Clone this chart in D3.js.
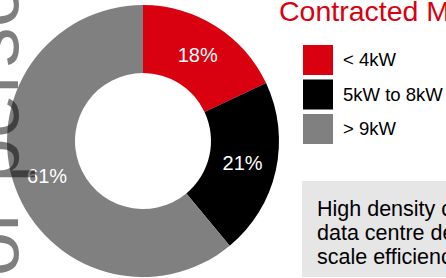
<!DOCTYPE html>
<html>
<head>
<meta charset="utf-8">
<script src="https://cdn.jsdelivr.net/npm/d3@7"></script>
<style>
  html, body { margin: 0; padding: 0; background: #fff; }
  svg { display: block; font-family: Arial, "Liberation Sans", sans-serif; }
</style>
</head>
<body>
<div id="chart"></div>
<script>
// Contracted MW split by rack density (donut + legend + note box)
var categories = ["< 4kW", "5kW to 8kW", "> 9kW"];
var shares = [18, 21, 61];
var colours = ["#d9000f", "#000000", "#808080"];
var title = "Contracted MW";
var noteLines = ["High density colocation", "data centre delivers", "scale efficiencies"];
var watermark = "For personal use only";

var width = 446, height = 278;
var cx = 143, cy = 141, outerR = 136, innerR = 68;

var svg = d3.select("#chart").append("svg")
  .attr("width", width).attr("height", height)
  .attr("viewBox", [0, 0, width, height]);

var colour = d3.scaleOrdinal().domain(categories).range(colours);

var pie = d3.pie().sort(null).value(function (d) { return d.value; });
var arc = d3.arc().innerRadius(innerR).outerRadius(outerR);

var slices = pie(categories.map(function (c, i) { return { name: c, value: shares[i] }; }));

var donut = svg.append("g").attr("transform", "translate(" + cx + "," + cy + ")");

donut.selectAll("path")
  .data(slices).join("path")
  .attr("d", arc)
  .attr("fill", function (d) { return colour(d.data.name); });

donut.selectAll("text")
  .data(slices).join("text")
  .attr("transform", function (d) { return "translate(" + arc.centroid(d) + ")"; })
  .attr("dy", "0.35em")
  .attr("text-anchor", "middle")
  .attr("fill", "#fff")
  .attr("font-size", 20)
  .text(function (d) { return d.data.value + "%"; });

// title
svg.append("text")
  .attr("x", 279).attr("y", 21)
  .attr("fill", "#d9000f")
  .attr("font-size", 28.5)
  .text(title);

// legend
var ly = d3.scaleBand().domain(categories).range([45, 144]).paddingInner(0.13);

var legend = svg.append("g").selectAll("g")
  .data(categories).join("g")
  .attr("transform", function (d) { return "translate(303," + ly(d) + ")"; });

legend.append("rect")
  .attr("width", ly.bandwidth()).attr("height", ly.bandwidth())
  .attr("fill", function (d) { return colour(d); });

legend.append("text")
  .attr("x", 40).attr("y", ly.bandwidth() / 2)
  .attr("dy", "0.35em")
  .attr("font-size", 18.5)
  .attr("fill", "#000")
  .text(function (d) { return d; });

// note box
svg.append("rect")
  .attr("x", 302).attr("y", 181)
  .attr("width", 200).attr("height", 96)
  .attr("fill", "#e6e6e6");

svg.append("g").selectAll("text")
  .data(noteLines).join("text")
  .attr("x", 317)
  .attr("y", function (d, i) { return 216 + i * 24; })
  .attr("font-size", 21.5)
  .attr("fill", "#000")
  .text(function (d) { return d; });

// page watermark, drawn over everything
svg.append("text")
  .attr("transform", "translate(18,325) rotate(-90)")
  .attr("font-size", 80)
  .attr("fill", "#000")
  .attr("fill-opacity", 0.5)
  .text(watermark);
</script>
</body>
</html>
